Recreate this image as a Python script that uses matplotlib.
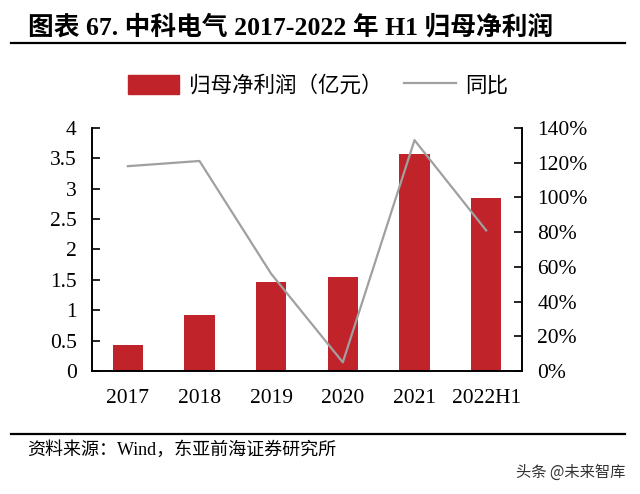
import matplotlib
matplotlib.use("Agg")
import matplotlib.pyplot as plt
import matplotlib.lines as mlines
import matplotlib.patches as mpatches
from matplotlib.ticker import FuncFormatter, MultipleLocator

plt.rcParams['font.family'] = ['Liberation Serif', 'Noto Sans CJK SC']

years = ['2017', '2018', '2019', '2020', '2021', '2022H1']
profit = [0.43, 0.92, 1.46, 1.54, 3.57, 2.85]     # 归母净利润（亿元）
yoy = [1.18, 1.21, 0.56, 0.05, 1.33, 0.81]        # 同比

bar_color = '#C1232B'
line_color = '#A0A0A0'

fig = plt.figure(figsize=(6.4, 4.94), dpi=100)
ax = fig.add_axes([92 / 640, 1 - 371 / 494, 430 / 640, 243 / 494])
ax2 = ax.twinx()

x = range(len(years))
ax.bar(x, profit, width=0.42, color=bar_color, zorder=2)
ax2.plot(x, yoy, color=line_color, lw=1.6, zorder=3)

ax.set_xlim(-0.5, len(years) - 0.5)
ax.set_ylim(0, 4)
ax2.set_ylim(0, 1.4)
ax.yaxis.set_major_locator(MultipleLocator(0.5))
ax2.yaxis.set_major_locator(MultipleLocator(0.2))
ax.yaxis.set_major_formatter(FuncFormatter(lambda v, p: '%g' % v))
ax2.yaxis.set_major_formatter(FuncFormatter(lambda v, p: '%d%%' % round(v * 100)))

ax.set_xticks(list(x))
ax.set_xticklabels(years)
ax.tick_params(axis='x', length=0, pad=13, labelsize=15.5)
ax.tick_params(axis='y', direction='in', length=6, width=1.2, pad=11, labelsize=15.5)
ax2.tick_params(axis='y', direction='in', length=6, width=1.2, pad=11, labelsize=15.5)

for a in (ax, ax2):
    a.spines['top'].set_visible(False)
    for s in ('left', 'right', 'bottom'):
        a.spines[s].set_linewidth(1.2)
ax2.set_zorder(ax.get_zorder() + 1)
ax2.patch.set_visible(False)

# legend
h_bar = mpatches.Patch(color=bar_color, label='归母净利润（亿元）')
h_line = mlines.Line2D([], [], color=line_color, lw=1.6, label='同比')
fig.legend(handles=[h_bar, h_line], loc='center', bbox_to_anchor=(318 / 640, 1 - 86 / 494),
           ncol=2, frameon=False, fontsize=15.5, handlelength=2.4, handleheight=1.0,
           handletextpad=0.45, columnspacing=1.0)

# title and rules
fig.text(28 / 640, 1 - 27 / 494, '图表 67. 中科电气 2017-2022 年 H1 归母净利润',
         fontsize=18.5, fontweight='bold', va='center', ha='left')
fig.add_artist(mlines.Line2D([11 / 640, 625 / 640], [1 - 43 / 494] * 2, color='black', lw=1.6))
fig.add_artist(mlines.Line2D([11 / 640, 625 / 640], [1 - 434 / 494] * 2, color='black', lw=1.6))

fig.text(27 / 640, 1 - 450 / 494, '资料来源：Wind，东亚前海证券研究所',
         fontsize=13, va='center', ha='left')
fig.text(625 / 640, 1 - 472 / 494, '头条 @未来智库', fontsize=11, color='#333333',
         va='center', ha='right', family=['Noto Sans CJK SC', 'DejaVu Sans'])

fig.savefig('out.png', dpi=100)
